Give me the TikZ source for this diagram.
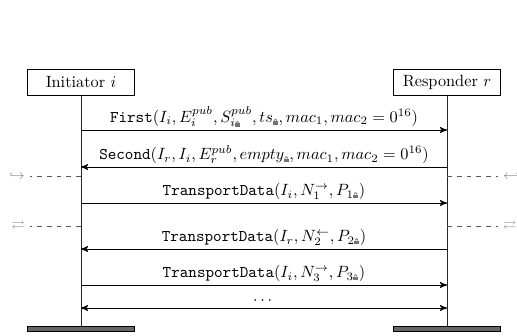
\documentclass[tikz,border=0pt]{standalone}
\usepackage{amsmath,amssymb}
\usetikzlibrary{arrows,positioning,calc}
\newcommand{\lk}{\mbox{\tikz[baseline=0pt,x=1pt,y=1pt,solid,-]{%
    \fill[black!55] (0,0) rectangle (3,2.2);
    \draw[black!55,line width=0.45pt] (0.7,2.2) -- (0.7,2.6) arc (180:0:0.8) -- (2.3,2.2);}}}
\tikzset{
    party/.style =  {rectangle,
                    fill=white,
                    draw=black,
                    text=black,
                    line width=0.6pt,
                    minimum width=65pt,
                    minimum height=16.5pt,
                    inner sep=3pt},
    bar/.style =    {rectangle,
                    fill=black!60,
                    draw=black,
                    line width=0.6pt,
                    minimum width=65pt,
                    minimum height=3.3pt,
                    inner sep=0pt},
    life/.style =   {draw=black!85,
                    line width=0.6pt},
    msg/.style =    {draw=black,
                    line width=0.6pt},
    lbl/.style =    {above,
                    inner sep=1.8pt},
    state/.style =  {draw=black!65,
                    line width=0.6pt,
                    dashed},
    sym/.style =    {text=black!50,
                    font=\footnotesize,
                    inner sep=0pt},
    >=stealth'}

\begin{document}
\begin{tikzpicture}[x=0.613pt,y=-0.613pt]
    \useasboundingbox (0,0) rectangle (517,335);
                    \node[party]  (I)  at (81,82.5)   {Initiator $i$};
                    \node[party]  (R)  at (447,82.5)  {Responder $r$};
                    \node[bar]    (Ib) at (81,329)    {};
                    \node[bar]    (Rb) at (447,329)   {};
                    \path [life]    (I) edge [] (Ib)
                                    (R) edge [] (Rb);

                    % points on the two lifelines
                    \foreach \n/\y in {1/130,2/167,3/176,4/203,5/226,6/249,7/285,8/308}{
                        \coordinate (i\n) at (81,\y);
                        \coordinate (r\n) at (447,\y);
                    }
                    \coordinate (hl) at (30,176);
                    \coordinate (hr) at (498,176);
                    \coordinate (xl) at (30,226);
                    \coordinate (xr) at (498,226);
                    \node[sym] (hlS) [left=3pt of hl]  {$\hookrightarrow$};
                    \node[sym] (hrS) [right=3pt of hr] {$\hookleftarrow$};
                    \node[sym] (xlS) [left=3pt of xl]  {$\rightleftarrows$};
                    \node[sym] (xrS) [right=3pt of xr] {$\rightleftarrows$};

                    \path [msg]     (i1) edge [->]  node [lbl] {\texttt{First}$(I_i, E_i^{pub}, S_{i\lk}^{pub}, ts_{\lk}, mac_1, mac_2 = 0^{16})$} (r1)
                                    (r2) edge [->]  node [lbl] {\texttt{Second}$(I_r, I_i, E_r^{pub}, empty_{\lk}, mac_1, mac_2 = 0^{16})$} (i2)
                                    (i4) edge [->]  node [lbl] {\texttt{TransportData}$(I_i, N_1^{\rightarrow}, P_{1\lk})$} (r4)
                                    (r6) edge [->]  node [lbl] {\texttt{TransportData}$(I_r, N_2^{\leftarrow}, P_{2\lk})$} (i6)
                                    (i7) edge [->]  node [lbl] {\texttt{TransportData}$(I_i, N_3^{\rightarrow}, P_{3\lk})$} (r7)
                                    (i8) edge [<->] node [lbl] {$\cdots$} (r8);
                    \path [state]   (i3) edge [] (hl)
                                    (r3) edge [] (hr)
                                    (i5) edge [] (xl)
                                    (r5) edge [] (xr);
\end{tikzpicture}
\end{document}
